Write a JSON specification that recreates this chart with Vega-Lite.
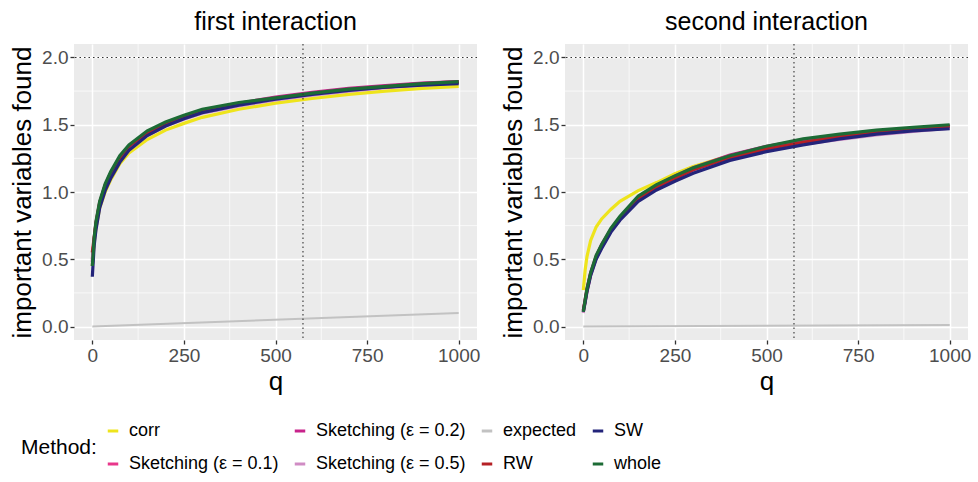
{
"$schema":"https://vega.github.io/schema/vega-lite/v6.json",
"background":"white",
"padding":{"left":9,"top":10,"right":6,"bottom":4},
"spacing":20,
"config":{
"font":"Liberation Sans",
"view":{"fill":"#EBEBEB","stroke":null},
"axis":{"domain":false,"grid":true,"gridColor":"white","gridWidth":1.5,"tickColor":"#333333","tickSize":4,"tickWidth":1.3,"labelFontSize":19,"labelColor":"#4D4D4D","labelPadding":2,"titleFontSize":26,"titleFontWeight":"normal","titleColor":"black","labelFont":"Liberation Sans","titleFont":"Liberation Sans"},
"axisX":{"titlePadding":3},
"axisY":{"titlePadding":6},
"title":{"fontSize":25,"fontWeight":"normal","color":"black","offset":8,"anchor":"middle","font":"Liberation Sans"},
"legend":{"orient":"none","legendX":-53,"legendY":378,"direction":"horizontal","columns":4,"titleOrient":"left","titleAnchor":"middle","titleBaseline":"middle","symbolType":"stroke","symbolStrokeWidth":3,"symbolSize":110,"labelFontSize":18,"titleFontSize":21,"labelFont":"Liberation Sans","titleFont":"Liberation Sans","titleFontWeight":"normal","labelColor":"black","titleColor":"black","rowPadding":15,"columnPadding":9,"labelOffset":7,"labelLimit":300,"titlePadding":7}
},
"datasets":{
"minorx":[{"q":125},{"q":375},{"q":625},{"q":875}],
"minory":[{"value":0.25},{"value":0.75},{"value":1.25},{"value":1.75}],
"one":[{}],
"curves":[
{"panel":"first","method":"corr","q":0,"value":0.45},{"panel":"first","method":"corr","q":5,"value":0.62},{"panel":"first","method":"corr","q":10,"value":0.73},{"panel":"first","method":"corr","q":20,"value":0.88},{"panel":"first","method":"corr","q":35,"value":1.0},{"panel":"first","method":"corr","q":50,"value":1.09},{"panel":"first","method":"corr","q":75,"value":1.21},{"panel":"first","method":"corr","q":100,"value":1.29},{"panel":"first","method":"corr","q":150,"value":1.39},{"panel":"first","method":"corr","q":200,"value":1.46},{"panel":"first","method":"corr","q":250,"value":1.51},{"panel":"first","method":"corr","q":300,"value":1.555},{"panel":"first","method":"corr","q":400,"value":1.615},{"panel":"first","method":"corr","q":500,"value":1.66},{"panel":"first","method":"corr","q":600,"value":1.695},{"panel":"first","method":"corr","q":700,"value":1.725},{"panel":"first","method":"corr","q":800,"value":1.75},{"panel":"first","method":"corr","q":900,"value":1.77},{"panel":"first","method":"corr","q":1000,"value":1.785},
{"panel":"first","method":"Sketching (ε = 0.1)","q":0,"value":0.5},{"panel":"first","method":"Sketching (ε = 0.1)","q":5,"value":0.65},{"panel":"first","method":"Sketching (ε = 0.1)","q":10,"value":0.76},{"panel":"first","method":"Sketching (ε = 0.1)","q":20,"value":0.91},{"panel":"first","method":"Sketching (ε = 0.1)","q":35,"value":1.04},{"panel":"first","method":"Sketching (ε = 0.1)","q":50,"value":1.13},{"panel":"first","method":"Sketching (ε = 0.1)","q":75,"value":1.25},{"panel":"first","method":"Sketching (ε = 0.1)","q":100,"value":1.33},{"panel":"first","method":"Sketching (ε = 0.1)","q":150,"value":1.44},{"panel":"first","method":"Sketching (ε = 0.1)","q":200,"value":1.505},{"panel":"first","method":"Sketching (ε = 0.1)","q":250,"value":1.555},{"panel":"first","method":"Sketching (ε = 0.1)","q":300,"value":1.6},{"panel":"first","method":"Sketching (ε = 0.1)","q":400,"value":1.655},{"panel":"first","method":"Sketching (ε = 0.1)","q":500,"value":1.7},{"panel":"first","method":"Sketching (ε = 0.1)","q":600,"value":1.735},{"panel":"first","method":"Sketching (ε = 0.1)","q":700,"value":1.765},{"panel":"first","method":"Sketching (ε = 0.1)","q":800,"value":1.785},{"panel":"first","method":"Sketching (ε = 0.1)","q":900,"value":1.805},{"panel":"first","method":"Sketching (ε = 0.1)","q":1000,"value":1.82},
{"panel":"first","method":"Sketching (ε = 0.2)","q":0,"value":0.48},{"panel":"first","method":"Sketching (ε = 0.2)","q":5,"value":0.65},{"panel":"first","method":"Sketching (ε = 0.2)","q":10,"value":0.77},{"panel":"first","method":"Sketching (ε = 0.2)","q":20,"value":0.92},{"panel":"first","method":"Sketching (ε = 0.2)","q":35,"value":1.05},{"panel":"first","method":"Sketching (ε = 0.2)","q":50,"value":1.14},{"panel":"first","method":"Sketching (ε = 0.2)","q":75,"value":1.26},{"panel":"first","method":"Sketching (ε = 0.2)","q":100,"value":1.34},{"panel":"first","method":"Sketching (ε = 0.2)","q":150,"value":1.445},{"panel":"first","method":"Sketching (ε = 0.2)","q":200,"value":1.51},{"panel":"first","method":"Sketching (ε = 0.2)","q":250,"value":1.56},{"panel":"first","method":"Sketching (ε = 0.2)","q":300,"value":1.605},{"panel":"first","method":"Sketching (ε = 0.2)","q":400,"value":1.66},{"panel":"first","method":"Sketching (ε = 0.2)","q":500,"value":1.705},{"panel":"first","method":"Sketching (ε = 0.2)","q":600,"value":1.74},{"panel":"first","method":"Sketching (ε = 0.2)","q":700,"value":1.77},{"panel":"first","method":"Sketching (ε = 0.2)","q":800,"value":1.79},{"panel":"first","method":"Sketching (ε = 0.2)","q":900,"value":1.81},{"panel":"first","method":"Sketching (ε = 0.2)","q":1000,"value":1.82},
{"panel":"first","method":"Sketching (ε = 0.5)","q":0,"value":0.45},{"panel":"first","method":"Sketching (ε = 0.5)","q":5,"value":0.63},{"panel":"first","method":"Sketching (ε = 0.5)","q":10,"value":0.74},{"panel":"first","method":"Sketching (ε = 0.5)","q":20,"value":0.89},{"panel":"first","method":"Sketching (ε = 0.5)","q":35,"value":1.02},{"panel":"first","method":"Sketching (ε = 0.5)","q":50,"value":1.11},{"panel":"first","method":"Sketching (ε = 0.5)","q":75,"value":1.23},{"panel":"first","method":"Sketching (ε = 0.5)","q":100,"value":1.31},{"panel":"first","method":"Sketching (ε = 0.5)","q":150,"value":1.42},{"panel":"first","method":"Sketching (ε = 0.5)","q":200,"value":1.49},{"panel":"first","method":"Sketching (ε = 0.5)","q":250,"value":1.54},{"panel":"first","method":"Sketching (ε = 0.5)","q":300,"value":1.585},{"panel":"first","method":"Sketching (ε = 0.5)","q":400,"value":1.64},{"panel":"first","method":"Sketching (ε = 0.5)","q":500,"value":1.685},{"panel":"first","method":"Sketching (ε = 0.5)","q":600,"value":1.72},{"panel":"first","method":"Sketching (ε = 0.5)","q":700,"value":1.75},{"panel":"first","method":"Sketching (ε = 0.5)","q":800,"value":1.775},{"panel":"first","method":"Sketching (ε = 0.5)","q":900,"value":1.795},{"panel":"first","method":"Sketching (ε = 0.5)","q":1000,"value":1.81},
{"panel":"first","method":"expected","q":0,"value":0.0},{"panel":"first","method":"expected","q":1000,"value":0.1},
{"panel":"first","method":"RW","q":0,"value":0.55},{"panel":"first","method":"RW","q":5,"value":0.66},{"panel":"first","method":"RW","q":10,"value":0.77},{"panel":"first","method":"RW","q":20,"value":0.92},{"panel":"first","method":"RW","q":35,"value":1.05},{"panel":"first","method":"RW","q":50,"value":1.14},{"panel":"first","method":"RW","q":75,"value":1.255},{"panel":"first","method":"RW","q":100,"value":1.34},{"panel":"first","method":"RW","q":150,"value":1.44},{"panel":"first","method":"RW","q":200,"value":1.51},{"panel":"first","method":"RW","q":250,"value":1.56},{"panel":"first","method":"RW","q":300,"value":1.6},{"panel":"first","method":"RW","q":400,"value":1.655},{"panel":"first","method":"RW","q":500,"value":1.695},{"panel":"first","method":"RW","q":600,"value":1.73},{"panel":"first","method":"RW","q":700,"value":1.76},{"panel":"first","method":"RW","q":800,"value":1.78},{"panel":"first","method":"RW","q":900,"value":1.8},{"panel":"first","method":"RW","q":1000,"value":1.815},
{"panel":"first","method":"SW","q":0,"value":0.37},{"panel":"first","method":"SW","q":5,"value":0.6},{"panel":"first","method":"SW","q":10,"value":0.72},{"panel":"first","method":"SW","q":20,"value":0.88},{"panel":"first","method":"SW","q":35,"value":1.01},{"panel":"first","method":"SW","q":50,"value":1.1},{"panel":"first","method":"SW","q":75,"value":1.22},{"panel":"first","method":"SW","q":100,"value":1.31},{"panel":"first","method":"SW","q":150,"value":1.42},{"panel":"first","method":"SW","q":200,"value":1.49},{"panel":"first","method":"SW","q":250,"value":1.545},{"panel":"first","method":"SW","q":300,"value":1.59},{"panel":"first","method":"SW","q":400,"value":1.645},{"panel":"first","method":"SW","q":500,"value":1.69},{"panel":"first","method":"SW","q":600,"value":1.725},{"panel":"first","method":"SW","q":700,"value":1.755},{"panel":"first","method":"SW","q":800,"value":1.78},{"panel":"first","method":"SW","q":900,"value":1.795},{"panel":"first","method":"SW","q":1000,"value":1.805},
{"panel":"first","method":"whole","q":0,"value":0.45},{"panel":"first","method":"whole","q":5,"value":0.66},{"panel":"first","method":"whole","q":10,"value":0.78},{"panel":"first","method":"whole","q":20,"value":0.93},{"panel":"first","method":"whole","q":35,"value":1.06},{"panel":"first","method":"whole","q":50,"value":1.15},{"panel":"first","method":"whole","q":75,"value":1.27},{"panel":"first","method":"whole","q":100,"value":1.35},{"panel":"first","method":"whole","q":150,"value":1.455},{"panel":"first","method":"whole","q":200,"value":1.52},{"panel":"first","method":"whole","q":250,"value":1.57},{"panel":"first","method":"whole","q":300,"value":1.615},{"panel":"first","method":"whole","q":400,"value":1.665},{"panel":"first","method":"whole","q":500,"value":1.7},{"panel":"first","method":"whole","q":600,"value":1.735},{"panel":"first","method":"whole","q":700,"value":1.765},{"panel":"first","method":"whole","q":800,"value":1.785},{"panel":"first","method":"whole","q":900,"value":1.805},{"panel":"first","method":"whole","q":1000,"value":1.82},
{"panel":"second","method":"corr","q":0,"value":0.27},{"panel":"second","method":"corr","q":5,"value":0.42},{"panel":"second","method":"corr","q":10,"value":0.52},{"panel":"second","method":"corr","q":20,"value":0.64},{"panel":"second","method":"corr","q":35,"value":0.74},{"panel":"second","method":"corr","q":50,"value":0.8},{"panel":"second","method":"corr","q":75,"value":0.87},{"panel":"second","method":"corr","q":100,"value":0.93},{"panel":"second","method":"corr","q":150,"value":1.01},{"panel":"second","method":"corr","q":200,"value":1.07},{"panel":"second","method":"corr","q":250,"value":1.135},{"panel":"second","method":"corr","q":300,"value":1.19},{"panel":"second","method":"corr","q":400,"value":1.27},{"panel":"second","method":"corr","q":500,"value":1.33},{"panel":"second","method":"corr","q":600,"value":1.38},{"panel":"second","method":"corr","q":700,"value":1.415},{"panel":"second","method":"corr","q":800,"value":1.445},{"panel":"second","method":"corr","q":900,"value":1.465},{"panel":"second","method":"corr","q":1000,"value":1.485},
{"panel":"second","method":"Sketching (ε = 0.1)","q":0,"value":0.11},{"panel":"second","method":"Sketching (ε = 0.1)","q":5,"value":0.19},{"panel":"second","method":"Sketching (ε = 0.1)","q":10,"value":0.27},{"panel":"second","method":"Sketching (ε = 0.1)","q":20,"value":0.39},{"panel":"second","method":"Sketching (ε = 0.1)","q":35,"value":0.52},{"panel":"second","method":"Sketching (ε = 0.1)","q":50,"value":0.6},{"panel":"second","method":"Sketching (ε = 0.1)","q":75,"value":0.72},{"panel":"second","method":"Sketching (ε = 0.1)","q":100,"value":0.81},{"panel":"second","method":"Sketching (ε = 0.1)","q":150,"value":0.955},{"panel":"second","method":"Sketching (ε = 0.1)","q":200,"value":1.045},{"panel":"second","method":"Sketching (ε = 0.1)","q":250,"value":1.11},{"panel":"second","method":"Sketching (ε = 0.1)","q":300,"value":1.175},{"panel":"second","method":"Sketching (ε = 0.1)","q":400,"value":1.27},{"panel":"second","method":"Sketching (ε = 0.1)","q":500,"value":1.335},{"panel":"second","method":"Sketching (ε = 0.1)","q":600,"value":1.385},{"panel":"second","method":"Sketching (ε = 0.1)","q":700,"value":1.42},{"panel":"second","method":"Sketching (ε = 0.1)","q":800,"value":1.45},{"panel":"second","method":"Sketching (ε = 0.1)","q":900,"value":1.47},{"panel":"second","method":"Sketching (ε = 0.1)","q":1000,"value":1.49},
{"panel":"second","method":"Sketching (ε = 0.2)","q":0,"value":0.12},{"panel":"second","method":"Sketching (ε = 0.2)","q":5,"value":0.2},{"panel":"second","method":"Sketching (ε = 0.2)","q":10,"value":0.28},{"panel":"second","method":"Sketching (ε = 0.2)","q":20,"value":0.4},{"panel":"second","method":"Sketching (ε = 0.2)","q":35,"value":0.52},{"panel":"second","method":"Sketching (ε = 0.2)","q":50,"value":0.61},{"panel":"second","method":"Sketching (ε = 0.2)","q":75,"value":0.72},{"panel":"second","method":"Sketching (ε = 0.2)","q":100,"value":0.81},{"panel":"second","method":"Sketching (ε = 0.2)","q":150,"value":0.96},{"panel":"second","method":"Sketching (ε = 0.2)","q":200,"value":1.05},{"panel":"second","method":"Sketching (ε = 0.2)","q":250,"value":1.12},{"panel":"second","method":"Sketching (ε = 0.2)","q":300,"value":1.18},{"panel":"second","method":"Sketching (ε = 0.2)","q":400,"value":1.275},{"panel":"second","method":"Sketching (ε = 0.2)","q":500,"value":1.34},{"panel":"second","method":"Sketching (ε = 0.2)","q":600,"value":1.385},{"panel":"second","method":"Sketching (ε = 0.2)","q":700,"value":1.42},{"panel":"second","method":"Sketching (ε = 0.2)","q":800,"value":1.45},{"panel":"second","method":"Sketching (ε = 0.2)","q":900,"value":1.47},{"panel":"second","method":"Sketching (ε = 0.2)","q":1000,"value":1.49},
{"panel":"second","method":"Sketching (ε = 0.5)","q":0,"value":0.1},{"panel":"second","method":"Sketching (ε = 0.5)","q":5,"value":0.18},{"panel":"second","method":"Sketching (ε = 0.5)","q":10,"value":0.26},{"panel":"second","method":"Sketching (ε = 0.5)","q":20,"value":0.38},{"panel":"second","method":"Sketching (ε = 0.5)","q":35,"value":0.51},{"panel":"second","method":"Sketching (ε = 0.5)","q":50,"value":0.59},{"panel":"second","method":"Sketching (ε = 0.5)","q":75,"value":0.71},{"panel":"second","method":"Sketching (ε = 0.5)","q":100,"value":0.8},{"panel":"second","method":"Sketching (ε = 0.5)","q":150,"value":0.94},{"panel":"second","method":"Sketching (ε = 0.5)","q":200,"value":1.025},{"panel":"second","method":"Sketching (ε = 0.5)","q":250,"value":1.095},{"panel":"second","method":"Sketching (ε = 0.5)","q":300,"value":1.155},{"panel":"second","method":"Sketching (ε = 0.5)","q":400,"value":1.245},{"panel":"second","method":"Sketching (ε = 0.5)","q":500,"value":1.31},{"panel":"second","method":"Sketching (ε = 0.5)","q":600,"value":1.355},{"panel":"second","method":"Sketching (ε = 0.5)","q":700,"value":1.39},{"panel":"second","method":"Sketching (ε = 0.5)","q":800,"value":1.425},{"panel":"second","method":"Sketching (ε = 0.5)","q":900,"value":1.45},{"panel":"second","method":"Sketching (ε = 0.5)","q":1000,"value":1.475},
{"panel":"second","method":"expected","q":0,"value":0.0},{"panel":"second","method":"expected","q":1000,"value":0.012},
{"panel":"second","method":"RW","q":0,"value":0.12},{"panel":"second","method":"RW","q":5,"value":0.19},{"panel":"second","method":"RW","q":10,"value":0.27},{"panel":"second","method":"RW","q":20,"value":0.39},{"panel":"second","method":"RW","q":35,"value":0.51},{"panel":"second","method":"RW","q":50,"value":0.6},{"panel":"second","method":"RW","q":75,"value":0.71},{"panel":"second","method":"RW","q":100,"value":0.8},{"panel":"second","method":"RW","q":150,"value":0.945},{"panel":"second","method":"RW","q":200,"value":1.035},{"panel":"second","method":"RW","q":250,"value":1.1},{"panel":"second","method":"RW","q":300,"value":1.165},{"panel":"second","method":"RW","q":400,"value":1.255},{"panel":"second","method":"RW","q":500,"value":1.32},{"panel":"second","method":"RW","q":600,"value":1.37},{"panel":"second","method":"RW","q":700,"value":1.41},{"panel":"second","method":"RW","q":800,"value":1.44},{"panel":"second","method":"RW","q":900,"value":1.465},{"panel":"second","method":"RW","q":1000,"value":1.49},
{"panel":"second","method":"SW","q":0,"value":0.11},{"panel":"second","method":"SW","q":5,"value":0.18},{"panel":"second","method":"SW","q":10,"value":0.26},{"panel":"second","method":"SW","q":20,"value":0.38},{"panel":"second","method":"SW","q":35,"value":0.5},{"panel":"second","method":"SW","q":50,"value":0.58},{"panel":"second","method":"SW","q":75,"value":0.7},{"panel":"second","method":"SW","q":100,"value":0.79},{"panel":"second","method":"SW","q":150,"value":0.93},{"panel":"second","method":"SW","q":200,"value":1.015},{"panel":"second","method":"SW","q":250,"value":1.08},{"panel":"second","method":"SW","q":300,"value":1.14},{"panel":"second","method":"SW","q":400,"value":1.235},{"panel":"second","method":"SW","q":500,"value":1.3},{"panel":"second","method":"SW","q":600,"value":1.35},{"panel":"second","method":"SW","q":700,"value":1.395},{"panel":"second","method":"SW","q":800,"value":1.43},{"panel":"second","method":"SW","q":900,"value":1.455},{"panel":"second","method":"SW","q":1000,"value":1.47},
{"panel":"second","method":"whole","q":0,"value":0.11},{"panel":"second","method":"whole","q":5,"value":0.2},{"panel":"second","method":"whole","q":10,"value":0.28},{"panel":"second","method":"whole","q":20,"value":0.4},{"panel":"second","method":"whole","q":35,"value":0.53},{"panel":"second","method":"whole","q":50,"value":0.61},{"panel":"second","method":"whole","q":75,"value":0.73},{"panel":"second","method":"whole","q":100,"value":0.82},{"panel":"second","method":"whole","q":150,"value":0.97},{"panel":"second","method":"whole","q":200,"value":1.055},{"panel":"second","method":"whole","q":250,"value":1.12},{"panel":"second","method":"whole","q":300,"value":1.18},{"panel":"second","method":"whole","q":400,"value":1.27},{"panel":"second","method":"whole","q":500,"value":1.34},{"panel":"second","method":"whole","q":600,"value":1.395},{"panel":"second","method":"whole","q":700,"value":1.43},{"panel":"second","method":"whole","q":800,"value":1.46},{"panel":"second","method":"whole","q":900,"value":1.48},{"panel":"second","method":"whole","q":1000,"value":1.5}
]
},
"hconcat":[
{"width":403,"height":296,"title":{"text":"first interaction"},
"layer":[
{"data":{"name":"minorx"},"mark":{"type":"rule","color":"white","strokeWidth":0.7},"encoding":{"x":{"field":"q","type":"quantitative","title":"q","scale":{"domain":[-50,1050],"nice":false,"zero":false},"axis":{"values":[0,250,500,750,1000],"format":"d"}}}},
{"data":{"name":"minory"},"mark":{"type":"rule","color":"white","strokeWidth":0.7},"encoding":{"y":{"field":"value","type":"quantitative","title":"important variables found","scale":{"domain":[-0.1,2.1],"nice":false,"zero":false},"axis":{"values":[0,0.5,1,1.5,2],"format":".1f"}}}},
{"data":{"name":"curves"},"transform":[{"filter":"datum.panel == 'first'"}],"mark":{"type":"line"},
"encoding":{"x":{"field":"q","type":"quantitative","title":"q","scale":{"domain":[-50,1050],"nice":false,"zero":false},"axis":{"values":[0,250,500,750,1000],"format":"d"}},
"y":{"field":"value","type":"quantitative","title":"important variables found","scale":{"domain":[-0.1,2.1],"nice":false,"zero":false},"axis":{"values":[0,0.5,1,1.5,2],"format":".1f"}},
"color":{"field":"method","type":"nominal","title":"Method:","scale":{"domain":["corr","Sketching (ε = 0.2)","expected","SW","Sketching (ε = 0.1)","Sketching (ε = 0.5)","RW","whole"],"range":["#EEE41C","#C8238B","#C2C2C2","#23247A","#E8378B","#D08CC4","#B52025","#1C6B35"]}},
"strokeWidth":{"condition":{"test":"datum.method == 'expected'","value":2},"value":3.2}}},
{"data":{"name":"one"},"mark":{"type":"rule","color":"#333333","strokeWidth":1.1,"strokeDash":[1.5,3]},"encoding":{"y":{"datum":2}}},
{"data":{"name":"one"},"mark":{"type":"rule","color":"#333333","strokeWidth":1.1,"strokeDash":[1.5,3]},"encoding":{"x":{"datum":575}}}
]},
{"width":403,"height":296,"title":{"text":"second interaction"},
"layer":[
{"data":{"name":"minorx"},"mark":{"type":"rule","color":"white","strokeWidth":0.7},"encoding":{"x":{"field":"q","type":"quantitative","title":"q","scale":{"domain":[-50,1050],"nice":false,"zero":false},"axis":{"values":[0,250,500,750,1000],"format":"d"}}}},
{"data":{"name":"minory"},"mark":{"type":"rule","color":"white","strokeWidth":0.7},"encoding":{"y":{"field":"value","type":"quantitative","title":"important variables found","scale":{"domain":[-0.1,2.1],"nice":false,"zero":false},"axis":{"values":[0,0.5,1,1.5,2],"format":".1f"}}}},
{"data":{"name":"curves"},"transform":[{"filter":"datum.panel == 'second'"}],"mark":{"type":"line"},
"encoding":{"x":{"field":"q","type":"quantitative","title":"q","scale":{"domain":[-50,1050],"nice":false,"zero":false},"axis":{"values":[0,250,500,750,1000],"format":"d"}},
"y":{"field":"value","type":"quantitative","title":"important variables found","scale":{"domain":[-0.1,2.1],"nice":false,"zero":false},"axis":{"values":[0,0.5,1,1.5,2],"format":".1f"}},
"color":{"field":"method","type":"nominal","title":"Method:","scale":{"domain":["corr","Sketching (ε = 0.2)","expected","SW","Sketching (ε = 0.1)","Sketching (ε = 0.5)","RW","whole"],"range":["#EEE41C","#C8238B","#C2C2C2","#23247A","#E8378B","#D08CC4","#B52025","#1C6B35"]}},
"strokeWidth":{"condition":{"test":"datum.method == 'expected'","value":2},"value":3.2}}},
{"data":{"name":"one"},"mark":{"type":"rule","color":"#333333","strokeWidth":1.1,"strokeDash":[1.5,3]},"encoding":{"y":{"datum":2}}},
{"data":{"name":"one"},"mark":{"type":"rule","color":"#333333","strokeWidth":1.1,"strokeDash":[1.5,3]},"encoding":{"x":{"datum":575}}}
]}
]
}
